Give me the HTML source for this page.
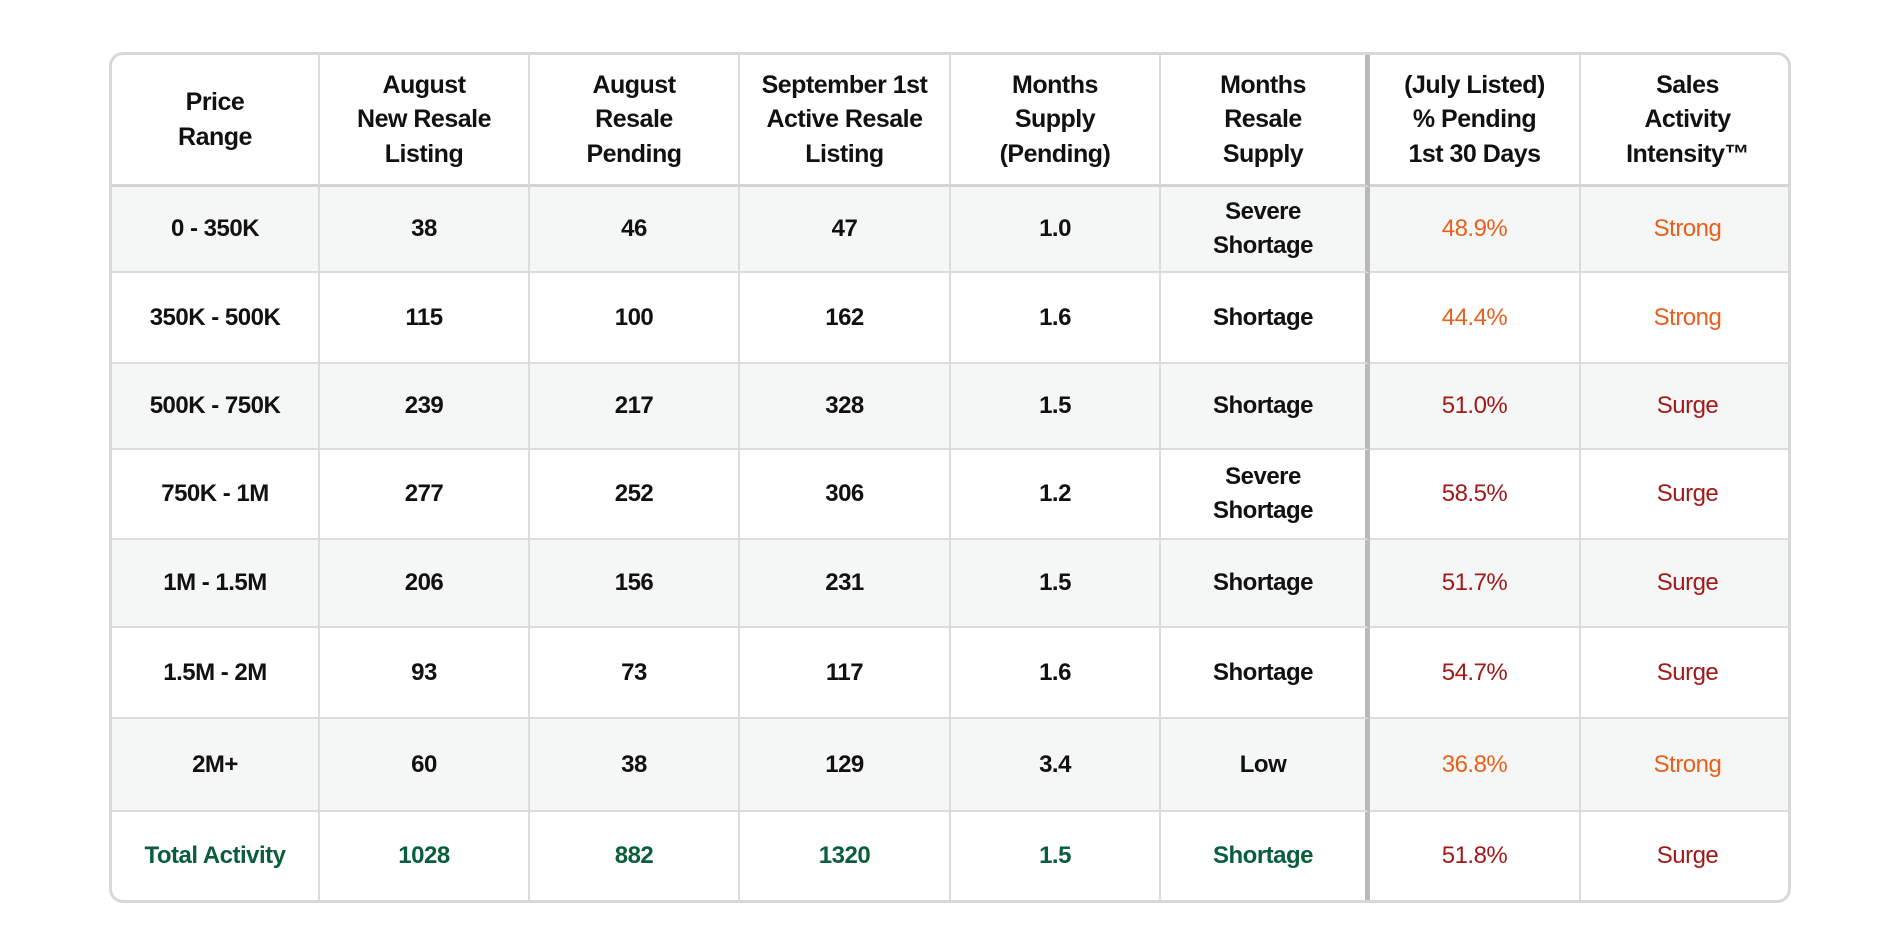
<!DOCTYPE html>
<html><head><meta charset="utf-8">
<style>
html,body{margin:0;padding:0;background:#fff;width:1900px;height:950px;overflow:hidden;font-family:"Liberation Sans",sans-serif;}
#tbl{position:absolute;left:109px;top:52px;width:1682px;height:851px;border:3px solid #d8d8d8;border-radius:14px;box-sizing:border-box;overflow:hidden;
display:grid;grid-template-columns:208px 210px 210px 211px 210px 209px 211px 213px;grid-template-rows:132px 86px 91px 86px 90px 88px 91px 93px 1fr;}
.c{display:flex;align-items:center;justify-content:center;text-align:center;border-right:2px solid #dcdcdc;border-bottom:2px solid #dcdcdc;font-weight:bold;font-size:24px;color:#111;letter-spacing:-0.5px;line-height:34px;}
.h{font-size:25px;line-height:34.5px;border-bottom:3px solid #d4d4d4;}
.sep{border-right:5px solid #b9b9b9;}
.last{border-right:none;}
.s{background:#f5f7f6;}
.o{color:#e8601c;font-weight:normal;}
.r{color:#a31818;font-weight:normal;}
.g{color:#0b5e3a;}
.bot{border-bottom:none;}
</style></head><body>
<div id="tbl">
<div class="c h">Price<br>Range</div>
<div class="c h">August<br>New Resale<br>Listing</div>
<div class="c h">August<br>Resale<br>Pending</div>
<div class="c h">September 1st<br>Active Resale<br>Listing</div>
<div class="c h">Months<br>Supply<br>(Pending)</div>
<div class="c h sep">Months<br>Resale<br>Supply</div>
<div class="c h">(July Listed)<br>% Pending<br>1st 30 Days</div>
<div class="c h last">Sales<br>Activity<br>Intensity™</div>

<div class="c s">0 - 350K</div>
<div class="c s">38</div>
<div class="c s">46</div>
<div class="c s">47</div>
<div class="c s">1.0</div>
<div class="c s sep">Severe<br>Shortage</div>
<div class="c s o">48.9%</div>
<div class="c s o last">Strong</div>

<div class="c">350K - 500K</div>
<div class="c">115</div>
<div class="c">100</div>
<div class="c">162</div>
<div class="c">1.6</div>
<div class="c sep">Shortage</div>
<div class="c o">44.4%</div>
<div class="c o last">Strong</div>

<div class="c s">500K - 750K</div>
<div class="c s">239</div>
<div class="c s">217</div>
<div class="c s">328</div>
<div class="c s">1.5</div>
<div class="c s sep">Shortage</div>
<div class="c s r">51.0%</div>
<div class="c s r last">Surge</div>

<div class="c">750K - 1M</div>
<div class="c">277</div>
<div class="c">252</div>
<div class="c">306</div>
<div class="c">1.2</div>
<div class="c sep">Severe<br>Shortage</div>
<div class="c r">58.5%</div>
<div class="c r last">Surge</div>

<div class="c s">1M - 1.5M</div>
<div class="c s">206</div>
<div class="c s">156</div>
<div class="c s">231</div>
<div class="c s">1.5</div>
<div class="c s sep">Shortage</div>
<div class="c s r">51.7%</div>
<div class="c s r last">Surge</div>

<div class="c">1.5M - 2M</div>
<div class="c">93</div>
<div class="c">73</div>
<div class="c">117</div>
<div class="c">1.6</div>
<div class="c sep">Shortage</div>
<div class="c r">54.7%</div>
<div class="c r last">Surge</div>

<div class="c s">2M+</div>
<div class="c s">60</div>
<div class="c s">38</div>
<div class="c s">129</div>
<div class="c s">3.4</div>
<div class="c s sep">Low</div>
<div class="c s o">36.8%</div>
<div class="c s o last">Strong</div>

<div class="c g bot">Total Activity</div>
<div class="c g bot">1028</div>
<div class="c g bot">882</div>
<div class="c g bot">1320</div>
<div class="c g bot">1.5</div>
<div class="c g bot sep">Shortage</div>
<div class="c r bot">51.8%</div>
<div class="c r bot last">Surge</div>
</div>
</body></html>
